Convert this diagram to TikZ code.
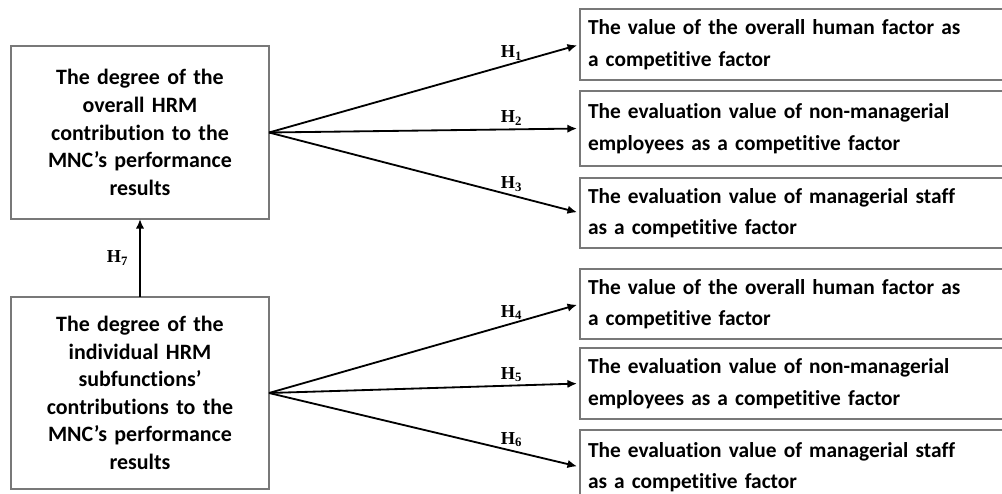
\documentclass[tikz,border=0pt]{standalone}
\usepackage{fontspec}
\setmainfont{Carlito}[Ligatures=NoCommon]
\newfontfamily\hypfont{Liberation Serif}
\usetikzlibrary{arrows.meta,positioning,calc}
\definecolor{boxline}{RGB}{120,120,120}

\begin{document}
\begin{tikzpicture}[x=0.025cm, y=-0.025cm,
  lbox/.style={draw=boxline, line width=0.9pt, rectangle, minimum width=6.45cm, text width=6.2cm, align=center, outer sep=0pt, font=\bfseries\fontsize{15.6}{19.6}\selectfont},
  rbox/.style={draw=boxline, line width=0.9pt, rectangle, anchor=west, minimum width=11cm, text width=10.6cm, inner xsep=0.2cm, align=left, outer sep=0pt, font=\bfseries\fontsize{15.2}{22.5}\selectfont},
  arr/.style={-{Latex[length=2.4mm,width=2.1mm]}, line width=1.3pt, shorten >=0.75mm},
  hyp/.style={font=\hypfont\bfseries\fontsize{13}{14}\selectfont, inner sep=2pt}
]
\useasboundingbox (0,0) rectangle (1002,494);
\clip (0,0) rectangle (1002,494);

% left side
\node[lbox, minimum height=4.325cm] (ovr) at (140,132.5) {The degree of the\\ overall HRM\\ contribution to the\\ MNC’s performance\\ results};
\node[lbox, minimum height=4.8cm] (sub) at (140,393) {The degree of the\\ individual HRM\\ subfunctions’\\ contributions to the\\ MNC’s performance\\ results};

% right side
\node[rbox, minimum height=1.775cm] (r1) at (580,44.5) {The value of the overall human factor as\\ a competitive factor};
\node[rbox, minimum height=1.875cm] (r2) at (580,128.5) {The evaluation value of non-managerial\\ employees as a competitive factor};
\node[rbox, minimum height=1.75cm] (r3) at (580,213) {The evaluation value of managerial staff\\ as a competitive factor};
\node[rbox, minimum height=1.75cm] (r4) at (580,304) {The value of the overall human factor as\\ a competitive factor};
\node[rbox, minimum height=1.775cm] (r5) at (580,383.5) {The evaluation value of non-managerial\\ employees as a competitive factor};
\node[rbox, minimum height=1.85cm] (r6) at (580,467) {The evaluation value of managerial staff\\ as a competitive factor};

% hypotheses
\draw[arr] (ovr.east) -- node[hyp, pos=0.78, above] (h1) {H\textsubscript{1}} (r1.west);
\draw[arr] (ovr.east) -- node[hyp, pos=0.78, above] (h2) {H\textsubscript{2}} (r2.west);
\draw[arr] (ovr.east) -- node[hyp, pos=0.78, above] (h3) {H\textsubscript{3}} (r3.west);
\draw[arr] (sub.east) -- node[hyp, pos=0.78, above] (h4) {H\textsubscript{4}} (r4.west);
\draw[arr] (sub.east) -- node[hyp, pos=0.78, above] (h5) {H\textsubscript{5}} (r5.west);
\draw[arr] (sub.east) -- node[hyp, pos=0.78, above] (h6) {H\textsubscript{6}} (r6.west);
\draw[arr, shorten >=0pt] (sub.north) -- node[hyp, left=0.2cm] (h7) {H\textsubscript{7}} (ovr.south);
\end{tikzpicture}
\end{document}
